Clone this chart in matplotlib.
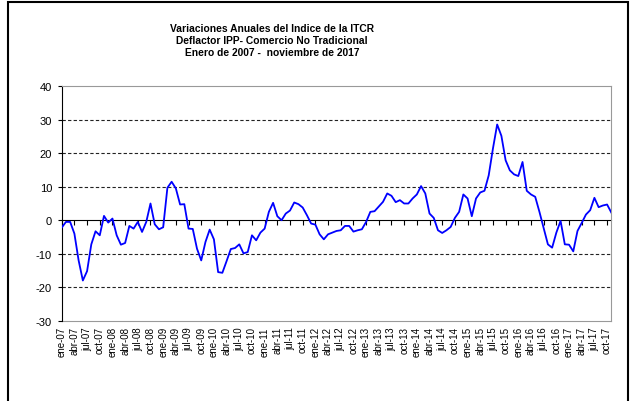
import numpy as np
import matplotlib.pyplot as plt
from matplotlib.patches import Rectangle

plt.rcParams['font.family'] = ['Liberation Sans', 'DejaVu Sans']
plt.rcParams['axes.unicode_minus'] = False

# variaciones anuales (%) por año, mensual
v2007 = [-2.2, -0.5, -0.5, -4.0, -12.0, -18.0, -15.2, -7.2, -3.3, -4.5, 1.3, -0.7]
v2008 = [0.5, -4.5, -7.3, -6.8, -1.7, -2.5, -0.5, -3.5, -0.5, 5.0, -1.2, -2.7]
v2009 = [-2.1, 9.7, 11.5, 9.5, 4.7, 4.8, -2.5, -2.6, -8.5, -12.0, -6.5, -2.8]
v2010 = [-5.7, -15.5, -15.7, -12.2, -8.6, -8.3, -7.2, -9.9, -9.5, -4.5, -6.0, -3.7]
v2011 = [-2.5, 2.5, 5.2, 1.2, 0.0, 2.0, 2.9, 5.3, 4.8, 3.8, 1.5, -1.0]
v2012 = [-1.3, -4.2, -5.7, -4.2, -3.7, -3.2, -3.0, -1.7, -1.7, -3.4, -3.0, -2.7]
v2013 = [-0.5, 2.5, 2.7, 4.1, 5.5, 8.0, 7.3, 5.4, 6.0, 5.0, 5.0, 6.5]
v2014 = [7.7, 10.2, 8.0, 2.0, 0.7, -3.0, -3.8, -3.0, -2.0, 0.7, 2.5, 7.7]
v2015 = [6.5, 1.2, 6.5, 8.3, 8.8, 13.4, 21.4, 28.6, 25.2, 17.9, 14.9, 13.7]
v2016 = [13.2, 17.4, 8.8, 7.7, 7.0, 2.5, -2.3, -7.2, -8.2, -3.7, -0.2, -7.2]
v2017 = [-7.3, -9.3, -3.2, -0.8, 1.7, 3.0, 6.7, 3.9, 4.4, 4.7, 2.3]

values = v2007 + v2008 + v2009 + v2010 + v2011 + v2012 + v2013 + v2014 + v2015 + v2016 + v2017

tick_labels = ['ene-07', 'abr-07', 'jul-07', 'oct-07', 'ene-08', 'abr-08', 'jul-08', 'oct-08',
               'ene-09', 'abr-09', 'jul-09', 'oct-09', 'ene-10', 'abr-10', 'jul-10', 'oct-10',
               'ene-11', 'abr-11', 'jul-11', 'oct-11', 'ene-12', 'abr-12', 'jul-12', 'oct-12',
               'ene-13', 'abr-13', 'jul-13', 'oct-13', 'ene-14', 'abr-14', 'jul-14', 'oct-14',
               'ene-15', 'abr-15', 'jul-15', 'oct-15', 'ene-16', 'abr-16', 'jul-16', 'oct-16',
               'ene-17', 'abr-17', 'jul-17', 'oct-17']

x = np.arange(len(values))
tick_pos = np.arange(len(tick_labels)) * 3

fig = plt.figure(figsize=(6.31, 4.02), dpi=100)
ax = fig.add_axes([0.0978, 0.1998, 0.871, 0.583])

# marco exterior
fig.patches.append(Rectangle((0.0127, -0.05), 0.983, 1.0425, transform=fig.transFigure,
                             fill=False, edgecolor='black', linewidth=1.5))

for g in [-20, -10, 10, 20, 30]:
    ax.axhline(g, color='#222222', linestyle=(0, (3, 2)), linewidth=0.8, zorder=1)

ax.plot(x, values, color='#0000ff', linewidth=1.3, zorder=3)

ax.set_xlim(0, len(values) - 1)
ax.set_ylim(-30, 40)
ax.set_yticks(range(-30, 41, 10))

for s in ['top', 'right']:
    ax.spines[s].set_color('#999999')
ax.spines['left'].set_color('black')
ax.spines['bottom'].set_position(('data', 0))
ax.spines['bottom'].set_color('black')
ax.spines['bottom'].set_zorder(2)

ax.set_xticks(tick_pos)
ax.set_xticklabels([])
ax.tick_params(axis='x', direction='out', length=3.5, width=0.8, color='black')
ax.tick_params(axis='y', direction='out', length=3, width=0.8, labelsize=8, pad=4)

sec = ax.secondary_xaxis('bottom')
sec.set_xticks(tick_pos)
sec.set_xticklabels(tick_labels, rotation=90, fontsize=7)
sec.tick_params(length=0, pad=4)
sec.spines['bottom'].set_color('#999999')

fig.text(0.431, 0.898, 'Variaciones Anuales del Indice de la ITCR\n'
         'Deflactor IPP- Comercio No Tradicional\n'
         'Enero de 2007 -  noviembre de 2017',
         ha='center', va='center', fontsize=7.4, fontweight='bold', linespacing=1.2)

fig.savefig('out.png', dpi=100)
